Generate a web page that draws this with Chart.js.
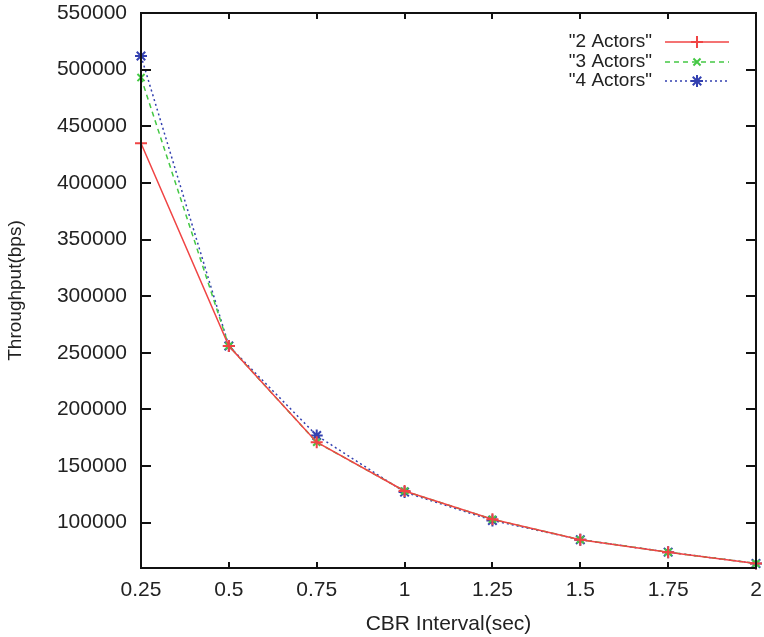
<!DOCTYPE html>
<html>
<head>
<meta charset="utf-8">
<script src="https://cdn.jsdelivr.net/npm/chart.js@4.4.0/dist/chart.umd.min.js"></script>
<style>
  body { margin: 0; background: #fff; }
  #wrap { width: 764px; height: 637px; }
</style>
</head>
<body>
<div id="wrap"><canvas id="tp" width="764" height="637"></canvas></div>
<script>
// CBR interval (sec) on x, throughput (bps) on y
const intervals = [0.25, 0.5, 0.75, 1, 1.25, 1.5, 1.75, 2];
const actors2 = [435000, 256000, 171000, 128000, 103000, 85000, 74000, 64000];
const actors3 = [493000, 256000, 171000, 128000, 103000, 85000, 74000, 64000];
const actors4 = [512000, 256000, 177000, 127000, 102000, 85000, 74000, 64000];
const seriesNames = ['"2 Actors"', '"3 Actors"', '"4 Actors"'];
const xTicks = [0.25, 0.5, 0.75, 1, 1.25, 1.5, 1.75, 2];
const yTicks = [100000, 150000, 200000, 250000, 300000, 350000, 400000, 450000, 500000, 550000];

const FONT = "'Liberation Sans', Arial, sans-serif";

function pts(ys) {
  return intervals.map((x, i) => ({ x: x, y: ys[i] }));
}

// border box with inward ticks on every side, gnuplot style
const frame = {
  id: "frame",
  afterDraw(chart) {
    const { ctx, chartArea: a, scales } = chart;
    ctx.save();
    ctx.strokeStyle = "#111";
    ctx.lineWidth = 2;
    ctx.strokeRect(a.left, a.top, a.right - a.left, a.bottom - a.top);
    ctx.beginPath();
    xTicks.forEach(v => {
      const px = Math.round(scales.x.getPixelForValue(v));
      ctx.moveTo(px, a.bottom); ctx.lineTo(px, a.bottom - 6);
      ctx.moveTo(px, a.top); ctx.lineTo(px, a.top + 6);
    });
    yTicks.forEach(v => {
      const py = Math.round(scales.y.getPixelForValue(v));
      ctx.moveTo(a.left, py); ctx.lineTo(a.left + 10, py);
      ctx.moveTo(a.right, py); ctx.lineTo(a.right - 10, py);
    });
    ctx.stroke();
    ctx.restore();
  }
};

// key in the upper right corner: label, line sample, marker
const keyBox = {
  id: "keyBox",
  afterDraw(chart) {
    const ctx = chart.ctx;
    const rows = [42, 62, 81];
    ctx.save();
    ctx.font = "19px " + FONT;
    ctx.textAlign = "right";
    ctx.textBaseline = "middle";
    chart.data.datasets.forEach((ds, i) => {
      const y = rows[i];
      ctx.fillStyle = "#222";
      ctx.fillText(ds.label, 652, y);
      ctx.strokeStyle = ds.borderColor;
      ctx.lineWidth = ds.borderWidth;
      ctx.setLineDash(ds.borderDash || []);
      ctx.beginPath();
      ctx.moveTo(665, y); ctx.lineTo(729, y);
      ctx.stroke();
      ctx.setLineDash([]);
      ctx.fillStyle = ds.borderColor;
      ctx.strokeStyle = ds.borderColor;
      ctx.lineWidth = 2;
      Chart.helpers.drawPoint(ctx, { pointStyle: ds.pointStyle, radius: ds.pointRadius, rotation: 0, borderWidth: 2 }, 697, y);
    });
    ctx.restore();
  }
};

new Chart(document.getElementById("tp"), {
  type: "line",
  data: {
    datasets: [
      { label: seriesNames[0], data: pts(actors2), borderColor: "#f04444", borderWidth: 1.5,
        pointStyle: "cross", pointRadius: 6, pointBorderWidth: 2, clip: false },
      { label: seriesNames[1], data: pts(actors3), borderColor: "#44c844", borderWidth: 1.5, borderDash: [5, 4],
        pointStyle: "crossRot", pointRadius: 5, pointBorderWidth: 2, clip: false },
      { label: seriesNames[2], data: pts(actors4), borderColor: "#3340b0", borderWidth: 1.5, borderDash: [2, 3],
        pointStyle: "star", pointRadius: 6, pointBorderWidth: 2, clip: false }
    ]
  },
  options: {
    responsive: false,
    animation: false,
    events: [],
    layout: { padding: { top: 13, right: 7, left: 0, bottom: 0 } },
    plugins: { legend: { display: false }, tooltip: { enabled: false } },
    elements: { line: { tension: 0, fill: false } },
    scales: {
      x: {
        type: "linear",
        min: 0.25,
        max: 2,
        afterBuildTicks: s => { s.ticks = xTicks.map(v => ({ value: v })); },
        afterFit: s => { s.height = 69; s.paddingLeft = 0; s.paddingRight = 0; },
        grid: { display: false },
        border: { display: false },
        ticks: { color: "#222", font: { family: FONT, size: 21 }, padding: 2, maxRotation: 0,
                 callback: v => String(v) },
        title: { display: true, text: "CBR Interval(sec)", color: "#222",
                 font: { family: FONT, size: 21 }, padding: { top: 0, bottom: 0 } }
      },
      y: {
        min: 60000,
        max: 550000,
        afterBuildTicks: s => { s.ticks = yTicks.map(v => ({ value: v })); },
        afterFit: s => { s.width = 141; s.paddingTop = 0; s.paddingBottom = 0; },
        grid: { display: false },
        border: { display: false },
        ticks: { color: "#222", font: { family: FONT, size: 21 }, padding: 6,
                 callback: v => String(v) },
        title: { display: true, text: "Throughput(bps)", color: "#222",
                 font: { family: FONT, size: 19 }, padding: { top: 4, bottom: 0 } }
      }
    }
  },
  plugins: [frame, keyBox]
});
</script>
</body>
</html>
